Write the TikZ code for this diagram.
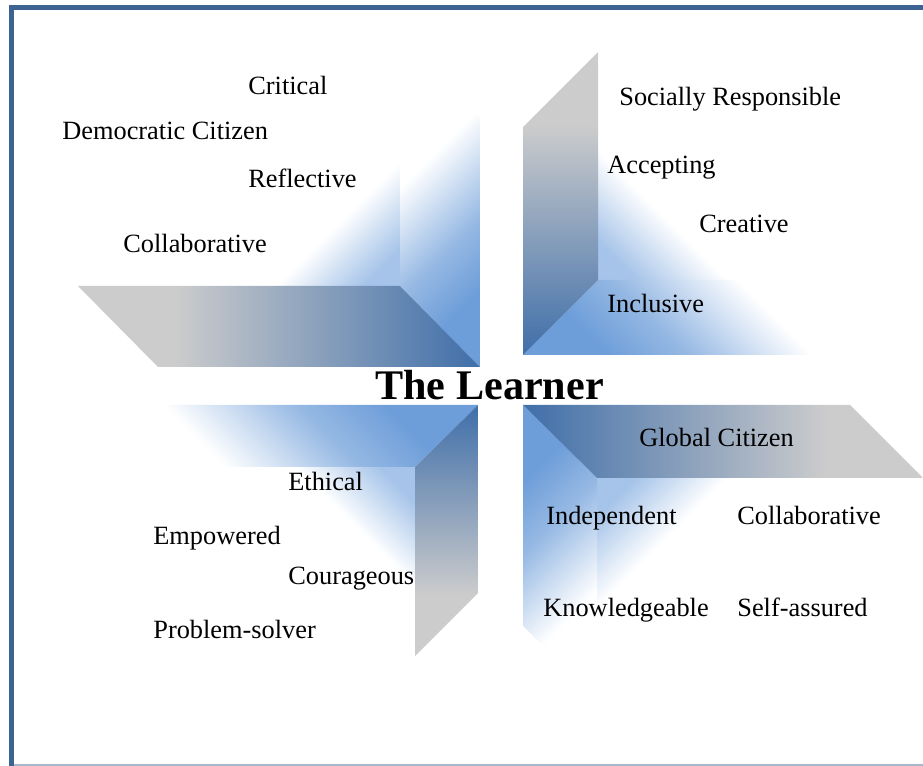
\documentclass[tikz,border=0pt]{standalone}
\usepackage{fontspec}
\setmainfont{Liberation Serif}

\definecolor{rahmen}{HTML}{3D6393}
\definecolor{rahmenhell}{HTML}{A9B7CA}
\definecolor{dunkelblau}{HTML}{4371AA}
\definecolor{hellblau}{HTML}{6E9ED9}
\definecolor{blassblau}{HTML}{A6C4E9}
\definecolor{grau}{HTML}{CCCCCC}
\colorlet{hellblaumitte}{hellblau!72!white}

% Verlaeufe (Pfad liegt zwischen 25bp und 75bp)
\pgfdeclareverticalshading{seite}{100bp}{color(0bp)=(hellblau); color(25bp)=(hellblau); color(35bp)=(hellblaumitte); color(50bp)=(white); color(100bp)=(white)}
\pgfdeclareverticalshading{vorne}{100bp}{color(0bp)=(blassblau); color(25bp)=(blassblau); color(50bp)=(white); color(100bp)=(white)}
\pgfdeclarehorizontalshading{grauflaeche}{100bp}{color(0bp)=(grau); color(37bp)=(grau); color(74bp)=(dunkelblau); color(100bp)=(dunkelblau)}

\newcommand{\verlauf}[4]{% Flaeche, Verlauf, Winkel, Quadrat
  \begin{scope}
    \clip #1;
    \shade[shading=#2, shading angle=#3] #4;
  \end{scope}}

\tikzset{
  wort/.style={anchor=base west, inner sep=0pt, font=\fontsize{15}{18}\selectfont},
}

\begin{document}
\begin{tikzpicture}[x=0.02cm, y=-0.02cm]
\useasboundingbox (0,0) rectangle (923,766);

% Oben links
\verlauf{(78,37) rectangle (400,286)}{vorne}{45}{(275,161) rectangle (400,286)} % Vorderseite
\verlauf{(400,37) -- (480,118) -- (480,367) -- (400,286) -- cycle}{seite}{45}{(220,107) rectangle (480,367)} % rechte Seite
\shade[shading=grauflaeche] (78,286) -- (400,286) -- (480,367) -- (158,367) -- cycle; % Boden

% Oben rechts
\verlauf{(598,52) rectangle (923,280)}{vorne}{-45}{(598,150) rectangle (728,280)} % Vorderseite
\verlauf{(523,355) -- (598,280) -- (923,280) -- (848,355) -- cycle}{seite}{-45}{(523,65) rectangle (813,355)} % Boden
\shade[shading=grauflaeche, shading angle=-90] (523,127) -- (598,52) -- (598,280) -- (523,355) -- cycle; % linke Seite

% Unten links
\verlauf{(97,467) rectangle (415,700)}{vorne}{135}{(295,467) rectangle (415,587)} % Vorderseite
\verlauf{(415,467) -- (478,405) -- (100,405) -- (37,467) -- cycle}{seite}{135}{(163,405) rectangle (478,720)} % Deckel
\shade[shading=grauflaeche, shading angle=90] (415,467) -- (478,405) -- (478,593) -- (415,656) -- cycle; % rechte Seite

% Unten rechts
\verlauf{(597,478) rectangle (923,760)}{vorne}{225}{(597,478) rectangle (727,608)} % Vorderseite
\verlauf{(523,405) -- (597,478) -- (597,699) -- (523,626) -- cycle}{seite}{225}{(523,405) rectangle (783,665)} % linke Seite
\shade[shading=grauflaeche, shading angle=180] (523,405) -- (850,405) -- (923,478) -- (597,478) -- cycle; % Deckel

% Beschriftung
\node[wort] (krit) at (248,95) {Critical};
\node[wort] (demo) at (62,140) {Democratic Citizen};
\node[wort] (refl) at (248,188) {Reflective};
\node[wort] (koll1) at (123,253) {Collaborative};

\node[wort] (sozial) at (619,106) {Socially Responsible};
\node[wort] (akzep) at (607,174) {Accepting};
\node[wort] (kreativ) at (699,233) {Creative};
\node[wort] (inkl) at (607,313) {Inclusive};

\node[wort] (ethisch) at (288,491) {Ethical};
\node[wort] (staerke) at (153,544) {Empowered};
\node[wort] (mutig) at (288,584) {Courageous};
\node[wort] (loeser) at (153,638) {Problem-solver};

\node[wort] (global) at (639,447) {Global Citizen};
\node[wort] (unabh) at (546,525) {Independent};
\node[wort] (koll2) at (737,525) {Collaborative};
\node[wort] (wissen) at (543,617) {Knowledgeable};
\node[wort] (selbst) at (737,617) {Self-assured};

\node[anchor=base west, inner sep=0pt, font=\fontsize{24}{28}\selectfont\bfseries] (lerner) at (375,400) {The Learner};

% Rahmen
\draw[rahmen, line width=2.8pt] (11.5,766) -- (11.5,7.5) -- (925,7.5);
\draw[rahmenhell, line width=0.8pt] (14,765) -- (923,765);
\end{tikzpicture}
\end{document}
